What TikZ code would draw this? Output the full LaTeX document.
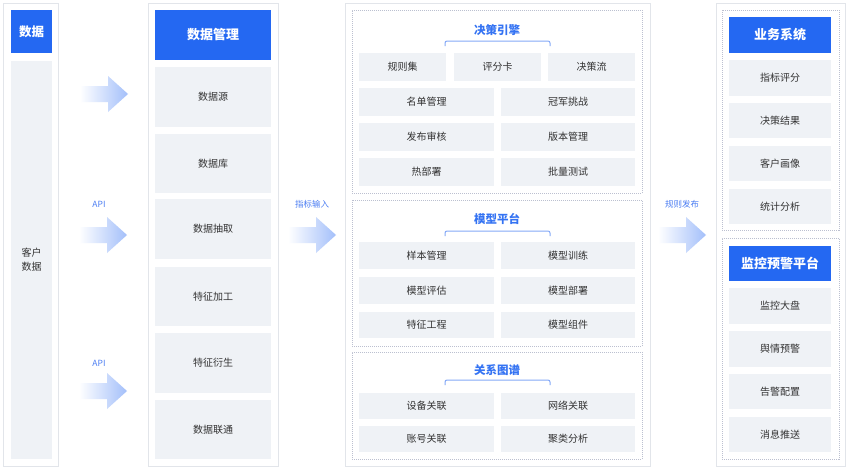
\documentclass[tikz,border=0pt]{standalone}
\usepackage{fontspec}
\setmainfont{Noto Sans CJK SC}
\usetikzlibrary{calc}
\definecolor{bmain}{HTML}{2468F2}
\definecolor{tblue}{HTML}{3473F3}
\definecolor{gfill}{HTML}{EFF2F6}
\definecolor{oline}{HTML}{E2E5EA}
\definecolor{dline}{HTML}{BCC0D0}
\definecolor{tdark}{HTML}{333333}
\definecolor{brk}{HTML}{85A9F7}
\definecolor{lblue}{HTML}{4C7EF3}
\definecolor{arw}{HTML}{A3BFFA}
\tikzset{
  outerbox/.style={draw=oline, line width=1pt, fill=white, inner sep=0pt, outer sep=0pt},
  dotbox/.style={draw=dline, line width=0.7pt, dash pattern=on 1pt off 1pt, fill=none, inner sep=0pt, outer sep=0pt},
  bluebox/.style={fill=bmain, text=white, font=\fontsize{13}{15}\selectfont\bfseries, inner sep=0pt, outer sep=0pt},
  graybox/.style={fill=gfill, text=tdark, font=\fontsize{10}{14}\selectfont, inner sep=0pt, outer sep=0pt, align=center},
  sectitle/.style={text=tblue, font=\fontsize{11.5}{13}\selectfont\bfseries, inner sep=0pt},
  flowlabel/.style={text=lblue, font=\fontsize{8.5}{10}\selectfont, inner sep=0pt},
  bracketline/.style={draw=brk, line width=1pt, rounded corners=2pt},
  arrowshade/.style={left color=white, right color=arw, draw=none}
}
% name, style, x1, y1, x2, y2, text
\newcommand\bx[7]{%
  \pgfmathsetmacro\bw{#5-#3}\pgfmathsetmacro\bh{#6-#4}%
  \node[#2, minimum width=\bw pt, minimum height=\bh pt] (#1) at ({(#3+#5)/2},{(#4+#6)/2}) {#7};}
% name, left x, centre y
\newcommand\barrow[3]{%
  \shade[arrowshade] (#2,#3-8) -- (#2+28,#3-8) -- (#2+28,#3-18) -- (#2+48,#3) -- (#2+28,#3+18) -- (#2+28,#3+8) -- (#2,#3+8) -- cycle;
  \coordinate (#1) at (#2+24,#3);}
\begin{document}
\begin{tikzpicture}[x=1pt,y=-1pt]
\useasboundingbox[fill=white] (0,0) rectangle (850,471);
% ---------- left column
\bx{colL}{outerbox}{3}{3}{58}{466}{}
\bx{dataT}{bluebox, font=\fontsize{12.5}{15}\selectfont\bfseries}{11}{10}{52}{53}{数据}
\bx{cust}{graybox}{11}{61}{52}{459}{客户\\数据}
% ---------- data management column
\bx{colM}{outerbox}{148}{3}{278}{466}{}
\bx{dmT}{bluebox}{155}{10}{271}{60}{数据管理}
\bx{dm1}{graybox}{155}{67}{271}{127}{数据源}
\bx{dm2}{graybox}{155}{134}{271}{193}{数据库}
\bx{dm3}{graybox}{155}{199}{271}{259}{数据抽取}
\bx{dm4}{graybox}{155}{267}{271}{326}{特征加工}
\bx{dm5}{graybox}{155}{333}{271}{393}{特征衍生}
\bx{dm6}{graybox}{155}{400}{271}{459}{数据联通}
% ---------- centre column
\bx{colC}{outerbox}{345}{3}{650}{466}{}
% decision engine
\bx{deB}{dotbox}{352}{10}{642}{193}{}
\node[sectitle] (deT) at (497,30) {决策引擎};
\draw[bracketline] (445,46) -- (445,41) -- (550,41) -- (550,46);
\bx{de1}{graybox}{359}{53}{446}{81}{规则集}
\bx{de2}{graybox}{454}{53}{541}{81}{评分卡}
\bx{de3}{graybox}{548}{53}{635}{81}{决策流}
\bx{de4}{graybox}{359}{88}{494}{116}{名单管理}
\bx{de5}{graybox}{501}{88}{635}{116}{冠军挑战}
\bx{de6}{graybox}{359}{123}{494}{151}{发布审核}
\bx{de7}{graybox}{501}{123}{635}{151}{版本管理}
\bx{de8}{graybox}{359}{158}{494}{186}{热部署}
\bx{de9}{graybox}{501}{158}{635}{186}{批量测试}
% model platform
\bx{mpB}{dotbox}{352}{200}{642}{346}{}
\node[sectitle] (mpT) at (497,219) {模型平台};
\draw[bracketline] (445,236) -- (445,231) -- (550,231) -- (550,236);
\bx{mp1}{graybox}{359}{242}{494}{269}{样本管理}
\bx{mp2}{graybox}{501}{242}{635}{269}{模型训练}
\bx{mp3}{graybox}{359}{277}{494}{304}{模型评估}
\bx{mp4}{graybox}{501}{277}{635}{304}{模型部署}
\bx{mp5}{graybox}{359}{312}{494}{338}{特征工程}
\bx{mp6}{graybox}{501}{312}{635}{338}{模型组件}
% relation graph
\bx{rgB}{dotbox}{352}{352}{642}{459}{}
\node[sectitle] (rgT) at (497,370) {关系图谱};
\draw[bracketline] (445,385) -- (445,380) -- (550,380) -- (550,385);
\bx{rg1}{graybox}{359}{393}{494}{419}{设备关联}
\bx{rg2}{graybox}{501}{393}{635}{419}{网络关联}
\bx{rg3}{graybox}{359}{426}{494}{452}{账号关联}
\bx{rg4}{graybox}{501}{426}{635}{452}{聚类分析}
% ---------- right column
\bx{colR}{outerbox}{716}{3}{845}{466}{}
\bx{bsB}{dotbox}{722}{10}{839}{230}{}
\bx{bsT}{bluebox}{729}{17}{831}{53}{业务系统}
\bx{bs1}{graybox}{729}{60}{831}{96}{指标评分}
\bx{bs2}{graybox}{729}{103}{831}{138}{决策结果}
\bx{bs3}{graybox}{729}{146}{831}{181}{客户画像}
\bx{bs4}{graybox}{729}{189}{831}{224}{统计分析}
\bx{mwB}{dotbox}{722}{238}{839}{459}{}
\bx{mwT}{bluebox}{729}{246}{831}{281}{监控预警平台}
\bx{mw1}{graybox}{729}{288}{831}{324}{监控大盘}
\bx{mw2}{graybox}{729}{331}{831}{367}{舆情预警}
\bx{mw3}{graybox}{729}{374}{831}{409}{告警配置}
\bx{mw4}{graybox}{729}{417}{831}{452}{消息推送}
% ---------- flow arrows
\barrow{a1}{80}{94}
\barrow{a2}{79}{235}
\barrow{a3}{79}{391}
\barrow{a4}{288}{235}
\barrow{a5}{658}{235}
\node[flowlabel] (l2) at (99,204) {API};
\node[flowlabel] (l3) at (99,363) {API};
\node[flowlabel] (l4) at (312,204) {指标输入};
\node[flowlabel] (l5) at (682,204) {规则发布};
\end{tikzpicture}
\end{document}
